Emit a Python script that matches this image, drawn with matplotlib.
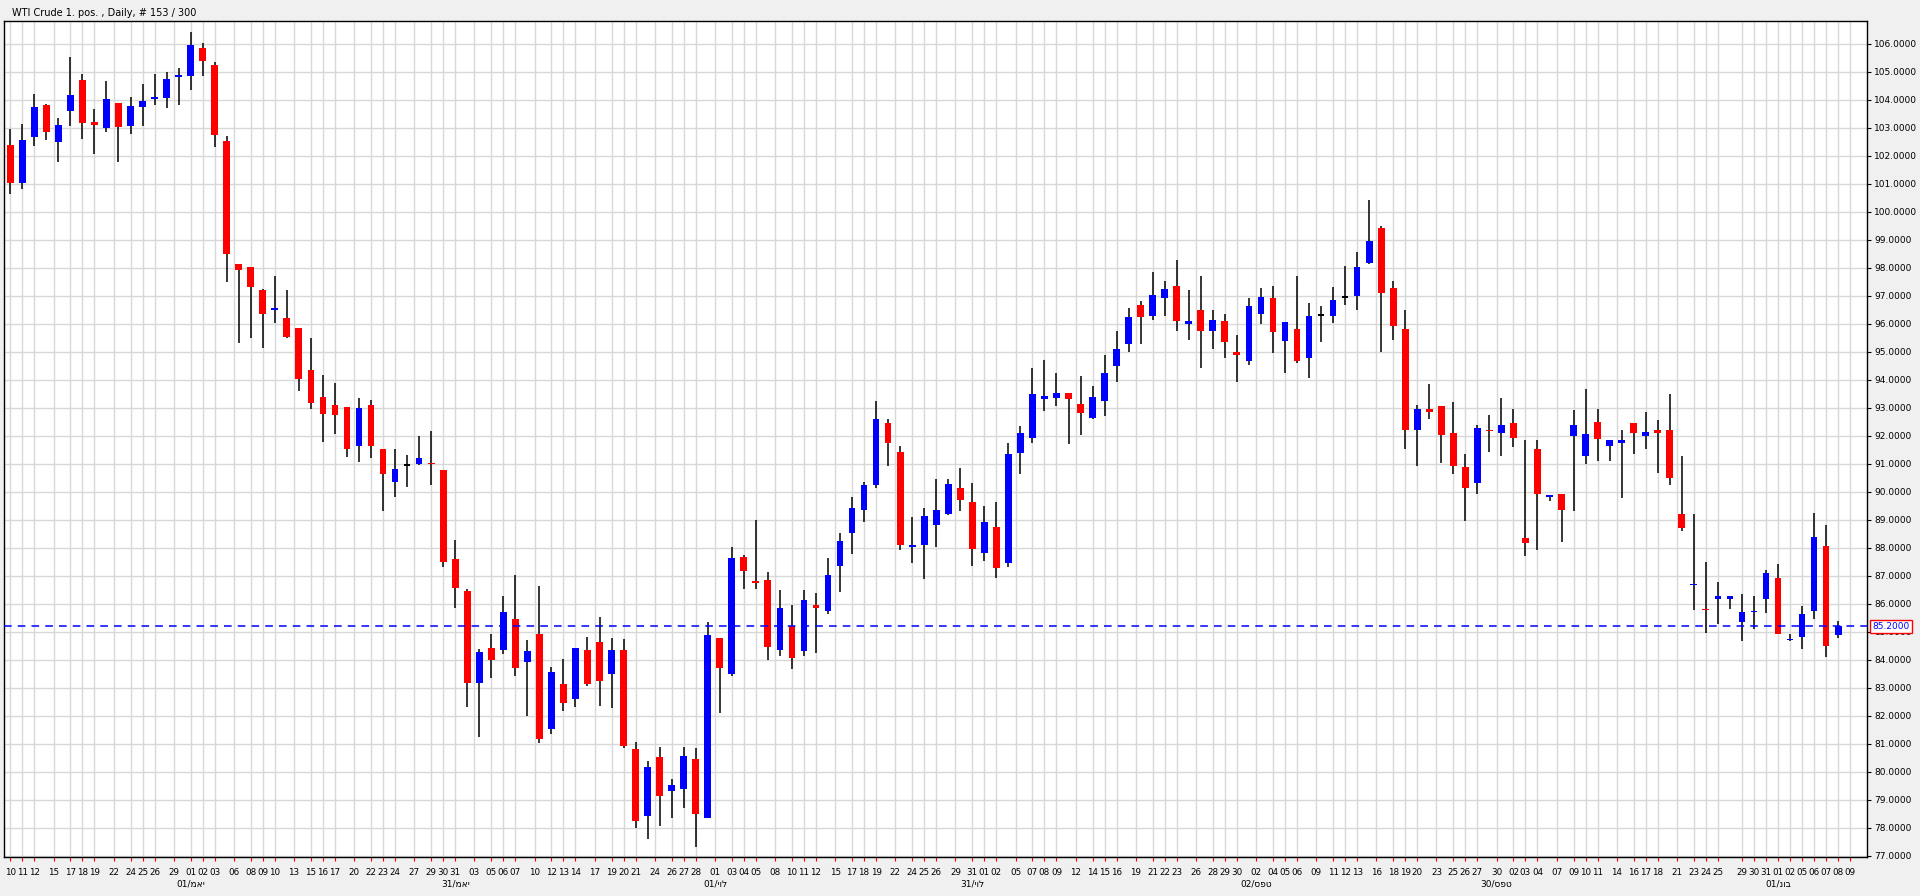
import matplotlib
matplotlib.use("Agg")
import matplotlib.pyplot as plt
import numpy as np
import pandas as pd

# ---------------- data ----------------
opens = [102.40,101.02,102.67,103.82,102.50,103.61,104.71,103.22,102.99,103.89,
         103.07,103.74,104.04,104.06,104.81,104.87,105.86,105.25,102.53,98.15,
         98.04,97.22,96.51,96.22,95.86,94.37,93.39,93.10,93.04,91.63,
         93.10,91.53,90.35,90.93,91.00,91.04,90.79,87.61,86.46,83.17,
         84.43,84.34,85.47,83.92,84.93,81.53,83.15,82.60,84.36,84.65,
         83.48,84.36,80.82,78.41,80.53,79.31,79.38,80.47,78.37,84.78,
         83.48,87.69,86.83,86.87,84.34,85.20,84.30,85.97,85.74,87.34,
         88.53,89.37,90.23,92.47,91.44,88.05,88.09,88.82,89.20,90.14,
         89.64,87.82,88.76,87.46,91.38,91.93,93.31,93.35,93.54,93.14,
         92.65,93.24,94.48,95.30,96.68,96.28,96.91,97.35,95.99,96.51,
         95.74,96.10,95.00,94.67,96.37,96.93,95.38,95.82,94.80,96.29,
         96.28,96.92,96.99,98.19,99.43,97.29,95.82,92.20,92.97,93.06,
         92.11,90.90,90.31,92.22,92.12,92.47,88.36,91.53,89.81,89.93,
         91.99,91.30,92.51,91.63,91.74,92.47,92.01,92.22,92.22,89.22,
         86.66,85.79,86.19,86.16,85.34,85.70,86.16,86.92,84.70,84.82,
         85.76,88.07,84.88]
highs = [102.97,103.15,104.22,103.85,103.36,105.54,104.92,103.68,104.68,103.89,
         104.10,104.58,104.92,105.00,105.14,106.44,106.03,105.37,102.71,98.15,
         98.04,97.25,97.71,97.22,95.86,95.49,94.17,93.89,93.04,93.35,
         93.27,91.53,91.53,91.32,91.99,92.18,90.79,88.28,86.54,84.40,
         84.93,86.29,87.04,84.70,86.63,83.75,84.03,84.43,84.82,85.55,
         84.78,84.74,81.07,80.38,80.89,79.73,80.89,80.86,85.35,84.78,
         88.03,87.75,89.01,87.15,86.50,85.97,86.50,86.39,87.65,88.53,
         89.83,90.37,93.26,92.60,91.65,89.10,89.43,90.46,90.46,90.86,
         90.33,89.51,89.64,91.74,92.36,94.42,94.71,94.23,93.54,94.14,
         93.79,94.90,95.74,96.56,96.81,97.87,97.54,98.29,97.22,97.71,
         96.49,96.35,95.61,96.93,97.29,97.35,96.07,97.71,96.76,96.64,
         97.33,98.08,98.57,100.43,99.49,97.54,96.51,93.10,93.87,93.06,
         93.22,91.36,92.39,92.76,93.35,92.97,91.84,91.86,89.89,89.93,
         92.93,93.68,92.97,91.86,92.22,92.47,92.85,92.57,93.50,91.28,
         89.22,87.49,86.77,86.29,86.37,86.29,87.21,87.44,84.93,85.93,
         89.26,88.82,85.39]
lows = [100.64,100.83,102.36,102.57,101.79,103.07,102.61,102.07,102.86,101.79,
        102.78,103.07,103.82,103.72,103.82,104.35,104.85,102.32,97.50,95.32,
        95.49,95.15,96.03,95.49,93.60,92.97,91.78,92.07,91.26,91.07,
        91.21,89.31,89.81,90.19,90.96,90.23,87.31,85.87,82.31,81.24,
        83.34,84.21,83.44,81.99,81.03,81.37,82.16,82.31,83.08,82.37,
        82.27,80.84,78.01,77.59,78.08,78.37,78.70,77.30,78.35,82.10,
        83.44,86.54,86.54,84.01,84.13,83.67,84.15,84.24,85.64,86.41,
        87.77,88.91,90.15,90.92,87.92,87.46,86.88,88.05,89.16,89.31,
        87.34,87.52,86.92,87.31,90.63,91.76,92.90,93.08,91.70,92.05,
        92.59,92.70,93.94,94.98,95.30,96.13,96.30,95.74,95.42,94.42,
        95.09,94.77,93.94,94.52,95.99,94.96,94.23,94.61,94.06,95.34,
        96.05,96.66,96.49,98.15,94.98,95.42,91.55,90.94,92.60,91.04,
        90.63,88.97,89.91,91.44,91.27,91.61,87.71,87.93,89.68,88.21,
        89.31,91.00,91.09,91.09,89.79,91.34,91.55,90.67,90.23,88.59,
        85.77,84.97,85.28,85.81,84.67,85.12,85.66,84.91,84.68,84.38,
        85.45,84.09,84.78]
closes = [101.02,102.57,103.76,102.84,103.11,104.18,103.16,103.09,104.04,103.03,
          103.78,103.97,104.08,104.75,104.89,105.96,105.38,102.76,98.51,97.94,
          97.31,96.37,96.54,95.55,94.02,93.16,92.78,92.74,91.55,93.01,
          91.63,90.63,90.82,90.93,91.21,90.98,87.48,86.56,83.19,84.28,
          84.01,85.72,83.71,84.32,81.16,83.57,82.45,84.41,83.13,83.23,
          84.36,80.91,78.24,80.19,79.13,79.54,80.57,78.49,84.89,83.71,
          87.65,87.17,86.73,84.47,85.85,84.05,86.14,85.85,87.04,88.24,
          89.43,90.25,92.60,91.74,88.11,88.11,89.14,89.35,90.29,89.70,
          87.96,88.93,87.27,91.36,92.11,93.50,93.41,93.54,93.31,92.81,
          93.39,94.25,95.11,96.26,96.24,97.04,97.25,96.09,96.11,95.74,
          96.14,95.34,94.88,96.64,96.97,95.70,96.07,94.67,96.28,96.29,
          96.85,96.92,98.04,98.96,97.12,95.91,92.20,92.97,92.87,92.05,
          90.94,90.14,92.28,92.16,92.39,91.92,88.17,89.91,89.89,89.37,
          92.39,92.07,91.88,91.86,91.86,92.12,92.15,92.12,90.48,88.72,
          86.67,85.77,86.29,86.29,85.72,85.72,87.11,84.91,84.76,85.64,
          88.40,84.51,85.20]

last_price = 85.20
title = "WTI Crude 1. pos. , Daily, # 153 / 300"
y_ticks = list(range(77, 107))
month_labels = ["01/מאי", "31/מאי", "01/יול", "31/יול", "02/ספט", "30/ספט", "01/נוב"]
month_pos = [15, 37, 58.6, 80, 103.6, 123.6, 147]
tail_labels = ["29", "30", "31", "01", "02", "05", "06", "07", "08", "09"]
tail_pos = [144, 145, 146, 147, 148, 149, 150, 151, 152, 153]

# day tick labels: trading days, Tuesdays hidden (as on the chart)
days = pd.bdate_range("2019-04-10", "2019-10-25")
x_labels, x_pos = [], []
for k, d in enumerate(days):
    if d.weekday() == 1:
        continue
    x_labels.append(f"{d.day:02d}")
    x_pos.append(k + (0.6 if d.weekday() == 0 else 0))
x_labels += tail_labels
x_pos += tail_pos

# ---------------- drawing ----------------
W, H = 1920, 896
fig = plt.figure(figsize=(W / 100, H / 100), dpi=100, facecolor="#f0f0f0")
ax = fig.add_axes([4 / W, 1 - 857 / H, (1867 - 4) / W, (857 - 21) / H])
ax.set_facecolor("white")
ax.set_xlim(-0.52, 154.4)
ax.set_ylim(76.96, 106.82)

for y in y_ticks:
    ax.axhline(y, color="#d8d8d8", lw=1.0, zorder=0)
for xp in x_pos:
    ax.axvline(xp, color="#d8d8d8", lw=1.0, zorder=0)

idx = np.arange(len(opens))
bw = 0.56
for i in idx:
    o, h, l, c = opens[i], highs[i], lows[i], closes[i]
    if c > o:
        col = "#0000ff"
    elif c < o:
        col = "#ff0000"
    else:
        col = "black"
    ax.vlines(i, l, h, color="black", lw=1.1, zorder=2)
    bottom = min(o, c)
    height = max(abs(c - o), 0.06)
    ax.add_patch(plt.Rectangle((i - bw / 2, bottom), bw, height,
                               facecolor=col, edgecolor="none", zorder=3))

ax.axhline(last_price, color="#0000ff", lw=1.1, ls=(0, (5, 4)), zorder=4)

ax.yaxis.tick_right()
ax.set_yticks(y_ticks)
ax.set_yticklabels([f"{v:.4f}" for v in y_ticks], fontsize=6.5, family="DejaVu Sans")
ax.tick_params(axis="y", length=3, width=0.8, color="black", pad=2)
ax.set_xticks(x_pos)
ax.set_xticklabels(x_labels, fontsize=6.3, family="DejaVu Sans")
ax.tick_params(axis="x", length=3, width=0.8, color="red", pad=5)
for s in ax.spines.values():
    s.set_color("black")
    s.set_linewidth(1.0)

for lab, p in zip(month_labels, month_pos):
    ax.text(p, -27 / 836, lab, transform=ax.get_xaxis_transform(), ha="center",
            va="center", fontsize=6.5, family="DejaVu Sans")

ax.text(1.0 + 5 / 1863, last_price, f"{last_price:.4f}", transform=ax.get_yaxis_transform(),
        ha="left", va="center", fontsize=6.5, color="#0000ff", family="DejaVu Sans",
        bbox=dict(boxstyle="square,pad=0.25", facecolor="white", edgecolor="red", lw=1.0),
        zorder=10, clip_on=False)

fig.text(12 / W, 1 - 13 / H, title, ha="left", va="center", fontsize=7,
         family="DejaVu Sans")

fig.savefig("out.png", dpi=100, facecolor=fig.get_facecolor())
